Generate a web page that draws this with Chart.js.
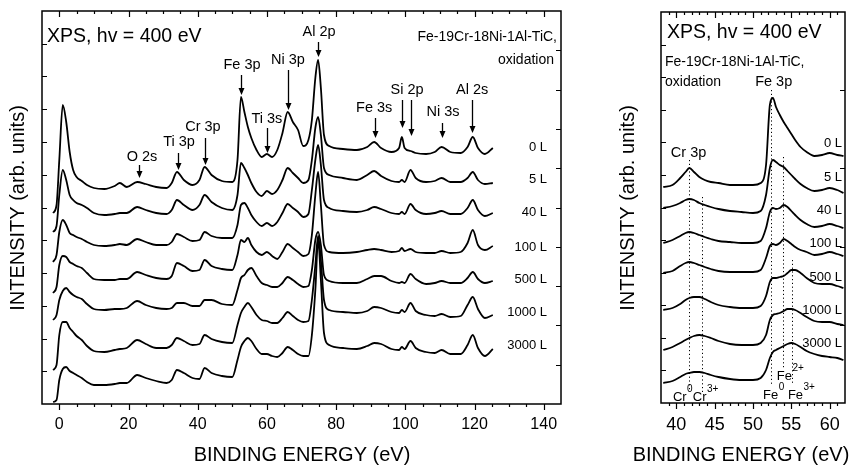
<!DOCTYPE html>
<html><head><meta charset="utf-8">
<script src="https://cdn.jsdelivr.net/npm/chart.js@4.4.0/dist/chart.umd.min.js"></script>
<style>
html,body{margin:0;padding:0;background:#fff;}
#wrap{position:relative;width:852px;height:465px;overflow:hidden;background:#fff}
#c1{position:absolute;left:0;top:0}
#c2{position:absolute;left:600px;top:0}
</style></head><body>
<div id="wrap"><canvas id="c1" width="600" height="465"></canvas><canvas id="c2" width="252" height="465"></canvas></div>
<script>
const FONT = '"Liberation Sans", Arial, Helvetica, sans-serif';

// ===== Left panel: full spectra (binding energy eV, intensity arb. units) =====
const leftEnergy = [-1.8,-0.8,0,1.0,2.0,3.0,4.0,5.0,6.5,8,10,13,16,17.5,19.5,22.5,25,28,31,32.5,34,36,38.5,40.5,42,44,47,50,51.5,52.5,53.5,54.5,55.5,57,58.5,60,61.5,63,64.5,66,67.5,69,70.5,72,73,74,74.8,75.6,76.5,78,82,86,89,91,93,96,98.2,99.0,99.8,101.5,103,106,108.5,110.5,113,116,118,119.5,121,123,125.3];
const left0L = [191,199,244,299,282,252,234,227,223,219,216,215,218,221,217,222,220,217,216,221,232,224,219,224,237,229,223,222,244,307,292,277,266,254,247,250,247,254,271,292,282,274,258,264,284,326,344,316,269,258,255,254,257,262,256,252,256,267,256,253,251,250,252,257,252,251,257,267,256,250,256];
const left5L = [172,178,209,234,224,209,204,201,199,196,191,189,190,191,191,197,194,191,190,194,204,199,194,199,209,202,196,194,209,241,236,229,221,212,208,213,210,214,224,236,231,226,221,224,244,276,287,269,236,229,226,224,229,233,228,223,222,224,222,234,226,222,223,226,222,222,226,232,224,220,221];
const left40L = [142,149,172,184,179,171,169,167,165,162,159,158,159,160,159,165,162,159,159,162,170,167,163,164,172,168,166,166,179,199,201,196,189,182,178,181,178,182,191,200,196,192,187,190,214,244,259,239,204,196,193,192,194,197,195,191,190,192,190,200,194,190,191,193,190,190,196,204,194,188,191];
const left100L = [111,117,139,148,147,142,140,138,136,131,125,124,124,125,125,132,129,126,125,128,141,138,133,134,144,138,135,134,149,164,162,166,159,152,149,152,148,145,152,160,156,152,148,150,169,209,232,199,159,152,151,152,154,155,154,152,153,156,153,155,152,151,151,153,151,152,161,174,159,154,158];
const left500L = [84,89,104,113,116,112,109,107,105,100,95,94,95,95,96,103,99,96,95,96,101,101,98,98,104,104,100,99,114,126,129,134,136,128,121,119,117,117,121,127,124,120,117,118,134,164,172,159,129,123,121,121,125,128,128,123,121,122,121,130,125,120,121,123,121,121,126,132,125,121,123];
const left1000L = [34,39,69,82,82,76,72,68,64,58,53,52,54,55,56,64,60,56,56,59,66,63,59,60,69,65,62,61,79,91,97,101,97,89,84,83,81,81,86,92,88,84,82,83,104,139,168,144,104,94,92,91,93,97,96,92,91,94,92,101,93,89,88,90,87,88,99,107,95,86,89];
const left3000L = [2,4,24,35,37,33,31,29,26,22,19,19,20,21,21,29,26,23,21,24,34,31,26,25,36,31,28,27,44,57,63,66,63,55,50,50,48,47,51,57,54,50,48,48,69,114,164,124,71,59,56,55,58,61,60,55,54,57,55,63,56,52,51,54,50,50,59,69,56,48,55];
const leftXTicks = [0,20,40,60,80,100,120,140];

// ===== Right panel: Cr 3p / Fe 3p region =====
const rightEnergy = [38.3,39.5,40.5,41.2,41.7,42.3,43.0,43.7,44.5,45.5,47,48.5,50,51,51.7,52.2,52.6,53.0,53.5,54.0,54.5,55.0,55.5,56.2,57,58,59,60,61,61.8];
const right0L = [216,218,225,231,235,231,226,223,221,220,218,218,218,220,238,298,305,296,288,281,275,269,263,256,251,247,248,250,248,247];
const right5L = [195,197,200,203,204,203,200,198,196,194,192,191,190,192,208,235,243,241,238,236,232,228,224,219,215,212,213,215,213,210];
const right40L = [160,163,167,170,171,170,168,166,164,162,161,160,160,162,175,191,195,194,195,198,196,192,188,183,179,176,177,179,177,175];
const right100L = [130,132,137,140,141,140,138,136,134,132,131,131,131,133,145,157,159,158,160,164,162,159,156,153,151,148,149,151,149,147];
const right500L = [93,95,99,103,105,106,106,104,101,98,96,95,95,97,107,121,125,125,126,127,130,133,133,130,125,120,119,119,117,115];
const right1000L = [53,56,60,63,65,67,68,67,65,62,59,58,58,60,68,83,88,89,90,92,94,94,93,90,86,82,81,81,79,78];
const right3000L = [20,22,26,29,30,31,31,30,28,26,24,23,23,25,33,45,51,53,55,57,59,60,59,56,52,49,47,46,45,43];
const rightXTicks = [40,45,50,55,60];

const exposures = ['0 L','5 L','40 L','100 L','500 L','1000 L','3000 L'];

// ===== helpers =====
function makeDatasets(energy, list){
  return list.map((s, i) => ({
    label: exposures[i],
    data: energy.map((e, j) => ({x: e, y: s[j]})),
    borderColor: '#000', borderWidth: 1.8, pointRadius: 0, fill: false,
    cubicInterpolationMode: 'monotone'
  }));
}

function drawArrow(ctx, px, yTop, yTip){
  ctx.beginPath(); ctx.moveTo(px, yTop); ctx.lineTo(px, yTip - 5); ctx.stroke();
  ctx.beginPath(); ctx.moveTo(px - 3, yTip - 7); ctx.lineTo(px + 3, yTip - 7); ctx.lineTo(px, yTip); ctx.closePath(); ctx.fill();
}

function decorPlugin(d){
  return {
    id: 'decor',
    afterDraw(chart){
      const {ctx, chartArea: a} = chart;
      const xs = chart.scales.x, ys = chart.scales.y;
      ctx.save();
      ctx.strokeStyle = '#000'; ctx.fillStyle = '#000';
      ctx.lineWidth = 1.5;
      ctx.strokeRect(a.left, a.top, a.right - a.left, a.bottom - a.top);
      // ticks
      ctx.lineWidth = 1.2;
      ctx.beginPath();
      const k0 = Math.ceil(xs.min / d.xMinor + 1e-9), k1 = Math.floor(xs.max / d.xMinor - 1e-9);
      const ratio = Math.round(d.xMajor / d.xMinor);
      for (let k = k0; k <= k1; k++){
        const px = Math.round(xs.getPixelForValue(k * d.xMinor)) + 0.5;
        const len = (k % ratio === 0) ? d.majorLen : d.minorLen;
        ctx.moveTo(px, a.bottom); ctx.lineTo(px, a.bottom + len);
        ctx.moveTo(px, a.top); ctx.lineTo(px, a.top + len);
      }
      for (let i = 1; i < d.yLeftDiv; i++){
        const py = Math.round(ys.getPixelForValue(ys.min + (ys.max - ys.min) * i / d.yLeftDiv)) + 0.5;
        ctx.moveTo(a.left, py); ctx.lineTo(a.left + d.yTickLen, py);
      }
      for (let i = 1; i < d.yRightDiv; i++){
        const py = Math.round(ys.getPixelForValue(ys.min + (ys.max - ys.min) * i / d.yRightDiv)) + 0.5;
        ctx.moveTo(a.right, py); ctx.lineTo(a.right - d.yTickLen, py);
      }
      ctx.stroke();

      // dotted reference lines
      if (d.dotted){
        ctx.save();
        ctx.lineWidth = 1; ctx.setLineDash([1.2, 2.6]);
        ctx.beginPath();
        d.dotted.forEach(l => {
          const px = Math.round(xs.getPixelForValue(l.e)) + 0.5;
          ctx.moveTo(px, ys.getPixelForValue(l.y1)); ctx.lineTo(px, ys.getPixelForValue(l.y2));
        });
        ctx.stroke();
        ctx.restore();
      }

      ctx.textBaseline = 'middle';
      // fixed texts
      d.texts.forEach(t => {
        ctx.font = `${t.size}px ${FONT}`;
        ctx.textAlign = t.align || 'left';
        if (t.rotate){
          ctx.save(); ctx.translate(t.x, t.y); ctx.rotate(-Math.PI / 2);
          ctx.textAlign = 'center'; ctx.fillText(t.text, 0, 0); ctx.restore();
        } else ctx.fillText(t.text, t.x, t.y);
      });
      // data-anchored texts
      (d.dataTexts || []).forEach(t => {
        ctx.font = `${t.size}px ${FONT}`;
        ctx.textAlign = t.align || 'center';
        ctx.fillText(t.text, xs.getPixelForValue(t.e), ys.getPixelForValue(t.v));
      });
      // arrows
      ctx.lineWidth = 1.3;
      (d.arrows || []).forEach(ar => {
        const px = Math.round(xs.getPixelForValue(ar.e)) + 0.5;
        drawArrow(ctx, px, ys.getPixelForValue(ar.v1), ys.getPixelForValue(ar.v2));
      });
      // exposure labels
      ctx.font = `${d.expSize}px ${FONT}`; ctx.textAlign = 'right';
      exposures.forEach((lab, i) => ctx.fillText(lab, a.right - d.expInset, ys.getPixelForValue(d.expV[i])));
      // labels with superscripts
      (d.supLabels || []).forEach(s => {
        const x = xs.getPixelForValue(s.e), y = ys.getPixelForValue(s.v);
        ctx.textAlign = 'left';
        ctx.font = `13px ${FONT}`; ctx.fillText(s.base, x, y);
        const w = ctx.measureText(s.base).width;
        ctx.font = `10px ${FONT}`; ctx.fillText(s.sup, x + w + 0.5, y - 8);
      });
      ctx.restore();
    }
  };
}

function baseOptions(xmin, xmax, ticksArr, ymax, pad, xh, tickSize){
  return {
    responsive: false, animation: false, devicePixelRatio: 1,
    layout: {padding: pad},
    plugins: {legend: {display: false}, tooltip: {enabled: false}},
    elements: {line: {borderJoinStyle: 'round'}},
    scales: {
      x: {
        type: 'linear', position: 'bottom', min: xmin, max: xmax,
        afterFit(s){ s.height = xh; },
        afterBuildTicks(s){ s.ticks = ticksArr.map(v => ({value: v})); },
        grid: {display: false, drawTicks: false}, border: {display: false},
        ticks: {color: '#000', font: {family: FONT, size: tickSize}, padding: 11, maxRotation: 0, autoSkip: false}
      },
      y: {type: 'linear', min: 0, max: ymax, display: false}
    }
  };
}

// ===== left chart =====
const leftDecor = {
  xMinor: 5, xMajor: 20, majorLen: 6, minorLen: 3, yLeftDiv: 12, yRightDiv: 10, yTickLen: 5,
  expSize: 13, expInset: 14, expV: [257, 225, 192, 157, 125, 92, 59],
  texts: [
    {text: 'XPS, hv = 400 eV', x: 47, y: 37, size: 19.5},
    {text: 'Fe-19Cr-18Ni-1Al-TiC,', x: 557, y: 37, size: 14, align: 'right'},
    {text: 'oxidation', x: 554, y: 60, size: 14, align: 'right'},
    {text: 'BINDING ENERGY (eV)', x: 302, y: 455, size: 20, align: 'center'},
    {text: 'INTENSITY (arb. units)', x: 18, y: 208, size: 20, rotate: true}
  ],
  dataTexts: [
    {text: 'O 2s', e: 23.9, v: 247, size: 14.5},
    {text: 'Ti 3p', e: 34.6, v: 262, size: 14.5},
    {text: 'Cr 3p', e: 41.5, v: 277, size: 14.5},
    {text: 'Fe 3p', e: 52.8, v: 339, size: 14.5},
    {text: 'Ti 3s', e: 60.0, v: 285, size: 14.5},
    {text: 'Ni 3p', e: 66.1, v: 344, size: 14.5},
    {text: 'Al 2p', e: 75.1, v: 372, size: 14.5},
    {text: 'Fe 3s', e: 91.0, v: 296, size: 14.5},
    {text: 'Si 2p', e: 100.5, v: 314, size: 14.5},
    {text: 'Ni 3s', e: 110.9, v: 292, size: 14.5},
    {text: 'Al 2s', e: 119.3, v: 314, size: 14.5}
  ],
  arrows: [
    {e: 23.0, v1: 239, v2: 226}, {e: 34.3, v1: 251, v2: 234}, {e: 42.1, v1: 266, v2: 239},
    {e: 52.5, v1: 329, v2: 309}, {e: 60.0, v1: 276, v2: 251}, {e: 66.1, v1: 334, v2: 294},
    {e: 74.8, v1: 362, v2: 347}, {e: 91.2, v1: 286, v2: 266}, {e: 99.0, v1: 304, v2: 276},
    {e: 101.6, v1: 304, v2: 268}, {e: 110.5, v1: 281, v2: 266}, {e: 119.3, v1: 304, v2: 271}
  ]
};

new Chart(document.getElementById('c1'), {
  type: 'line',
  data: {datasets: makeDatasets(leftEnergy, [left0L, left5L, left40L, left100L, left500L, left1000L, left3000L])},
  options: baseOptions(-5, 145, leftXTicks, 393, {left: 42, right: 39, top: 11, bottom: 0}, 61, 16),
  plugins: [decorPlugin(leftDecor)]
});

// ===== right chart =====
const rightDecor = {
  xMinor: 1, xMajor: 5, majorLen: 6, minorLen: 3, yLeftDiv: 12, yRightDiv: 5, yTickLen: 5,
  expSize: 13, expInset: 3, expV: [260, 226, 193, 160, 126, 93, 60],
  texts: [
    {text: 'XPS, hv = 400 eV', x: 67, y: 33, size: 19.5},
    {text: 'Fe-19Cr-18Ni-1Al-TiC,', x: 65, y: 62, size: 14},
    {text: 'oxidation', x: 65, y: 82, size: 14},
    {text: 'BINDING ENERGY (eV)', x: 141, y: 455, size: 20, align: 'center'},
    {text: 'INTENSITY (arb. units)', x: 28, y: 208, size: 20, rotate: true}
  ],
  dataTexts: [
    {text: 'Fe 3p', e: 52.7, v: 321, size: 14.5},
    {text: 'Cr 3p', e: 41.6, v: 250, size: 14.5}
  ],
  dotted: [
    {e: 41.65, y1: 243, y2: 11}, {e: 43.3, y1: 206, y2: 11},
    {e: 52.4, y1: 313, y2: 18}, {e: 53.9, y1: 246, y2: 35}, {e: 55.1, y1: 143, y2: 18}
  ],
  supLabels: [
    {base: 'Cr', sup: '0', e: 39.55, v: 6},
    {base: 'Cr', sup: '3+', e: 42.15, v: 6},
    {base: 'Fe', sup: '0', e: 51.3, v: 8},
    {base: 'Fe', sup: '2+', e: 53.1, v: 27},
    {base: 'Fe', sup: '3+', e: 54.55, v: 8}
  ]
};

new Chart(document.getElementById('c2'), {
  type: 'line',
  data: {datasets: makeDatasets(rightEnergy, [right0L, right5L, right40L, right100L, right500L, right1000L, right3000L])},
  options: baseOptions(38, 62, rightXTicks, 391, {left: 61, right: 7, top: 12, bottom: 0}, 62, 18),
  plugins: [decorPlugin(rightDecor)]
});
</script>
</body></html>
